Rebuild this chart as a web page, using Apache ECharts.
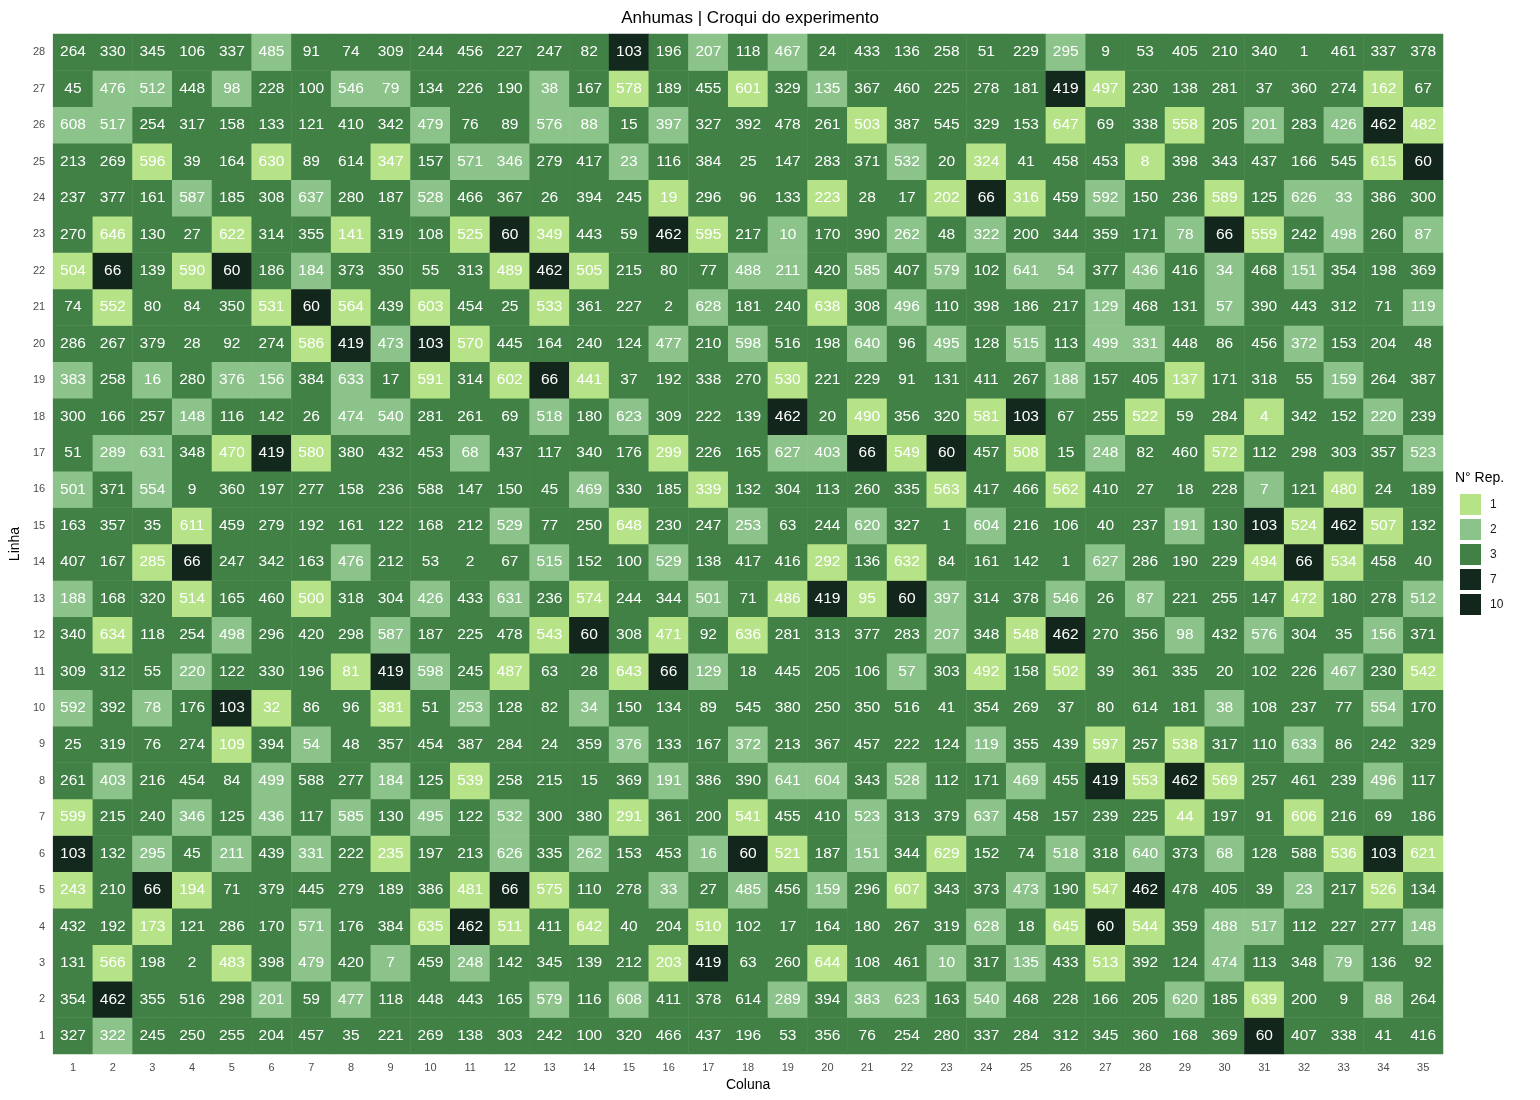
<!DOCTYPE html>
<html>
<head>
<meta charset="utf-8">
<script src="https://cdn.jsdelivr.net/npm/echarts@6/dist/echarts.min.js"></script>
<style>
  html, body { margin: 0; padding: 0; background: #fff; }
  #chart { width: 1540px; height: 1100px; }
</style>
</head>
<body>
<div id="chart"></div>
<script>
// colunas e linhas do croqui
var colunas = [];
for (var c = 1; c <= 35; c++) colunas.push(String(c));
var linhas = [];
for (var l = 1; l <= 28; l++) linhas.push(String(l));

// tratamentos por linha (coluna 1 -> 35)
var r28 = [264, 330, 345, 106, 337, 485, 91, 74, 309, 244, 456, 227, 247, 82, 103, 196, 207, 118, 467, 24, 433, 136, 258, 51, 229, 295, 9, 53, 405, 210, 340, 1, 461, 337, 378];
var r27 = [45, 476, 512, 448, 98, 228, 100, 546, 79, 134, 226, 190, 38, 167, 578, 189, 455, 601, 329, 135, 367, 460, 225, 278, 181, 419, 497, 230, 138, 281, 37, 360, 274, 162, 67];
var r26 = [608, 517, 254, 317, 158, 133, 121, 410, 342, 479, 76, 89, 576, 88, 15, 397, 327, 392, 478, 261, 503, 387, 545, 329, 153, 647, 69, 338, 558, 205, 201, 283, 426, 462, 482];
var r25 = [213, 269, 596, 39, 164, 630, 89, 614, 347, 157, 571, 346, 279, 417, 23, 116, 384, 25, 147, 283, 371, 532, 20, 324, 41, 458, 453, 8, 398, 343, 437, 166, 545, 615, 60];
var r24 = [237, 377, 161, 587, 185, 308, 637, 280, 187, 528, 466, 367, 26, 394, 245, 19, 296, 96, 133, 223, 28, 17, 202, 66, 316, 459, 592, 150, 236, 589, 125, 626, 33, 386, 300];
var r23 = [270, 646, 130, 27, 622, 314, 355, 141, 319, 108, 525, 60, 349, 443, 59, 462, 595, 217, 10, 170, 390, 262, 48, 322, 200, 344, 359, 171, 78, 66, 559, 242, 498, 260, 87];
var r22 = [504, 66, 139, 590, 60, 186, 184, 373, 350, 55, 313, 489, 462, 505, 215, 80, 77, 488, 211, 420, 585, 407, 579, 102, 641, 54, 377, 436, 416, 34, 468, 151, 354, 198, 369];
var r21 = [74, 552, 80, 84, 350, 531, 60, 564, 439, 603, 454, 25, 533, 361, 227, 2, 628, 181, 240, 638, 308, 496, 110, 398, 186, 217, 129, 468, 131, 57, 390, 443, 312, 71, 119];
var r20 = [286, 267, 379, 28, 92, 274, 586, 419, 473, 103, 570, 445, 164, 240, 124, 477, 210, 598, 516, 198, 640, 96, 495, 128, 515, 113, 499, 331, 448, 86, 456, 372, 153, 204, 48];
var r19 = [383, 258, 16, 280, 376, 156, 384, 633, 17, 591, 314, 602, 66, 441, 37, 192, 338, 270, 530, 221, 229, 91, 131, 411, 267, 188, 157, 405, 137, 171, 318, 55, 159, 264, 387];
var r18 = [300, 166, 257, 148, 116, 142, 26, 474, 540, 281, 261, 69, 518, 180, 623, 309, 222, 139, 462, 20, 490, 356, 320, 581, 103, 67, 255, 522, 59, 284, 4, 342, 152, 220, 239];
var r17 = [51, 289, 631, 348, 470, 419, 580, 380, 432, 453, 68, 437, 117, 340, 176, 299, 226, 165, 627, 403, 66, 549, 60, 457, 508, 15, 248, 82, 460, 572, 112, 298, 303, 357, 523];
var r16 = [501, 371, 554, 9, 360, 197, 277, 158, 236, 588, 147, 150, 45, 469, 330, 185, 339, 132, 304, 113, 260, 335, 563, 417, 466, 562, 410, 27, 18, 228, 7, 121, 480, 24, 189];
var r15 = [163, 357, 35, 611, 459, 279, 192, 161, 122, 168, 212, 529, 77, 250, 648, 230, 247, 253, 63, 244, 620, 327, 1, 604, 216, 106, 40, 237, 191, 130, 103, 524, 462, 507, 132];
var r14 = [407, 167, 285, 66, 247, 342, 163, 476, 212, 53, 2, 67, 515, 152, 100, 529, 138, 417, 416, 292, 136, 632, 84, 161, 142, 1, 627, 286, 190, 229, 494, 66, 534, 458, 40];
var r13 = [188, 168, 320, 514, 165, 460, 500, 318, 304, 426, 433, 631, 236, 574, 244, 344, 501, 71, 486, 419, 95, 60, 397, 314, 378, 546, 26, 87, 221, 255, 147, 472, 180, 278, 512];
var r12 = [340, 634, 118, 254, 498, 296, 420, 298, 587, 187, 225, 478, 543, 60, 308, 471, 92, 636, 281, 313, 377, 283, 207, 348, 548, 462, 270, 356, 98, 432, 576, 304, 35, 156, 371];
var r11 = [309, 312, 55, 220, 122, 330, 196, 81, 419, 598, 245, 487, 63, 28, 643, 66, 129, 18, 445, 205, 106, 57, 303, 492, 158, 502, 39, 361, 335, 20, 102, 226, 467, 230, 542];
var r10 = [592, 392, 78, 176, 103, 32, 86, 96, 381, 51, 253, 128, 82, 34, 150, 134, 89, 545, 380, 250, 350, 516, 41, 354, 269, 37, 80, 614, 181, 38, 108, 237, 77, 554, 170];
var r9 = [25, 319, 76, 274, 109, 394, 54, 48, 357, 454, 387, 284, 24, 359, 376, 133, 167, 372, 213, 367, 457, 222, 124, 119, 355, 439, 597, 257, 538, 317, 110, 633, 86, 242, 329];
var r8 = [261, 403, 216, 454, 84, 499, 588, 277, 184, 125, 539, 258, 215, 15, 369, 191, 386, 390, 641, 604, 343, 528, 112, 171, 469, 455, 419, 553, 462, 569, 257, 461, 239, 496, 117];
var r7 = [599, 215, 240, 346, 125, 436, 117, 585, 130, 495, 122, 532, 300, 380, 291, 361, 200, 541, 455, 410, 523, 313, 379, 637, 458, 157, 239, 225, 44, 197, 91, 606, 216, 69, 186];
var r6 = [103, 132, 295, 45, 211, 439, 331, 222, 235, 197, 213, 626, 335, 262, 153, 453, 16, 60, 521, 187, 151, 344, 629, 152, 74, 518, 318, 640, 373, 68, 128, 588, 536, 103, 621];
var r5 = [243, 210, 66, 194, 71, 379, 445, 279, 189, 386, 481, 66, 575, 110, 278, 33, 27, 485, 456, 159, 296, 607, 343, 373, 473, 190, 547, 462, 478, 405, 39, 23, 217, 526, 134];
var r4 = [432, 192, 173, 121, 286, 170, 571, 176, 384, 635, 462, 511, 411, 642, 40, 204, 510, 102, 17, 164, 180, 267, 319, 628, 18, 645, 60, 544, 359, 488, 517, 112, 227, 277, 148];
var r3 = [131, 566, 198, 2, 483, 398, 479, 420, 7, 459, 248, 142, 345, 139, 212, 203, 419, 63, 260, 644, 108, 461, 10, 317, 135, 433, 513, 392, 124, 474, 113, 348, 79, 136, 92];
var r2 = [354, 462, 355, 516, 298, 201, 59, 477, 118, 448, 443, 165, 579, 116, 608, 411, 378, 614, 289, 394, 383, 623, 163, 540, 468, 228, 166, 205, 620, 185, 639, 200, 9, 88, 264];
var r1 = [327, 322, 245, 250, 255, 204, 457, 35, 221, 269, 138, 303, 242, 100, 320, 466, 437, 196, 53, 356, 76, 254, 280, 337, 284, 312, 345, 360, 168, 369, 60, 407, 338, 41, 416];

var porLinha = [r1, r2, r3, r4, r5, r6, r7, r8, r9, r10, r11, r12, r13, r14,
  r15, r16, r17, r18, r19, r20, r21, r22, r23, r24, r25, r26, r27, r28];

// classes da legenda (N° de repeticoes)
var nRep = [1, 2, 3, 7, 10];
var coresRep = ['#b6e388', '#8cc38a', '#418146', '#14291e', '#12261b'];

// conta repeticoes de cada tratamento
var contagem = {};
porLinha.forEach(function (linha) {
  linha.forEach(function (t) { contagem[t] = (contagem[t] || 0) + 1; });
});

var dados = [];
porLinha.forEach(function (linha, i) {
  linha.forEach(function (t, j) {
    dados.push([j, i, contagem[t], t]);
  });
});

var chart = echarts.init(document.getElementById('chart'));
var fonte = '"Liberation Sans", Arial, sans-serif';

chart.setOption({
  animation: false,
  textStyle: { fontFamily: fonte },
  title: {
    text: 'Anhumas | Croqui do experimento',
    left: 745,
    textAlign: 'center',
    top: 5,
    textStyle: { fontSize: 17, fontWeight: 'normal', color: '#000', fontFamily: fonte }
  },
  grid: { left: 48, right: 97, top: 34, bottom: 46 },
  xAxis: {
    type: 'category',
    data: colunas,
    name: 'Coluna',
    nameLocation: 'middle',
    nameGap: 22,
    nameTextStyle: { fontSize: 14, color: '#000' },
    axisLine: { show: false },
    axisTick: { show: false },
    splitLine: { show: false },
    axisLabel: { color: '#4d4d4d', fontSize: 11, margin: 8 }
  },
  yAxis: {
    type: 'category',
    data: linhas,
    name: 'Linha',
    nameLocation: 'middle',
    nameGap: 30,
    nameRotate: 90,
    nameTextStyle: { fontSize: 14, color: '#000' },
    axisLine: { show: false },
    axisTick: { show: false },
    splitLine: { show: false },
    axisLabel: { color: '#4d4d4d', fontSize: 11, margin: 8 }
  },
  visualMap: {
    type: 'piecewise',
    dimension: 2,
    orient: 'vertical',
    inverse: true,
    align: 'left',
    padding: 0,
    left: 1460,
    top: 494,
    itemWidth: 21,
    itemHeight: 21,
    itemGap: 4,
    itemSymbol: 'rect',
    textGap: 9,
    selectedMode: false,
    textStyle: { fontSize: 12, color: '#1a1a1a' },
    pieces: nRep.map(function (n, k) {
      return { value: n, label: String(n), color: coresRep[k] };
    })
  },
  graphic: [{
    type: 'text',
    left: 1455,
    top: 471,
    style: { text: 'N° Rep.', fontSize: 14, fill: '#000', fontFamily: fonte }
  }],
  series: [{
    type: 'heatmap',
    data: dados,
    itemStyle: { borderWidth: 0 },
    emphasis: { disabled: true },
    label: {
      show: true,
      color: '#fff',
      fontSize: 15.5,
      fontFamily: fonte,
      formatter: function (p) { return p.value[3]; }
    }
  }]
});
</script>
</body>
</html>
